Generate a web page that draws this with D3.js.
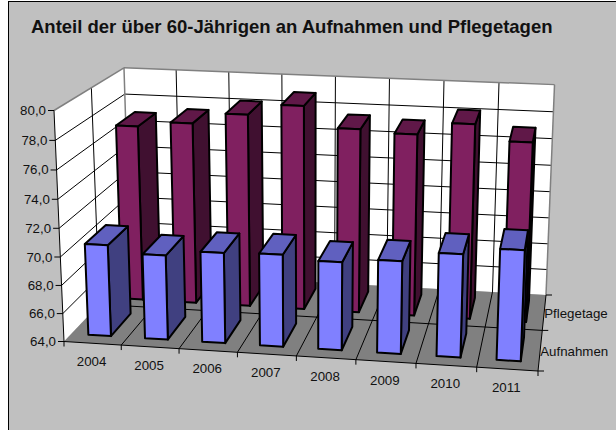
<!DOCTYPE html>
<html>
<head>
<meta charset="utf-8">
<script src="https://cdn.jsdelivr.net/npm/d3@7"></script>
<style>
  html, body { margin: 0; padding: 0; background: #fff; }
  text { font-family: "Liberation Sans", Arial, sans-serif; fill: #111; }
</style>
</head>
<body>
<div id="chart"></div>
<script>
// values
var years = ['2004', '2005', '2006', '2007', '2008', '2009', '2010', '2011']
var seriesNames = ['Aufnahmen', 'Pflegetage']
var aufnahmen = [70.5, 70.0, 70.4, 70.5, 70.2, 70.5, 71.2, 71.7]
var pflegetage = [77.0, 77.4, 78.2, 79.0, 77.5, 77.3, 78.2, 77.1]
var valueTicks = [64, 66, 68, 70, 72, 74, 76, 78, 80]
var titleText = 'Anteil der über 60-Jährigen an Aufnahmen und Pflegetagen'

var width = 616
var height = 430

// screen positions of the plot box corners, used to fit the perspective
var A = [64, 341.5, 1]    // front left bottom
var B = [538, 371, 1]     // front right bottom
var C = [130.35, 271.7, 1] // back left bottom
var D = [546, 295, 1]     // back right bottom
var E = [54, 110.5, 1]    // front left top
var F = [124, 69, 1]      // back left top

// solve a*P + b*Q + c*R = T with cramer
function solve3(P, Q, R, T) {
  function det(a, b, c) {
    return a[0] * (b[1] * c[2] - b[2] * c[1]) - b[0] * (a[1] * c[2] - a[2] * c[1]) + c[0] * (a[1] * b[2] - a[2] * b[1])
  }
  var d = det(P, Q, R)
  return [det(T, Q, R) / d, det(P, T, R) / d, det(P, Q, T) / d]
}

var k1 = solve3(B, C, D.map(function (n) { return -n }), A)
var k2 = solve3(E, C, F.map(function (n) { return -n }), A)
var ku = k1[0], kw = k1[1], kv = k2[0]

// project unit box coordinates: u along years, v up, w into the depth
function project(u, v, w) {
  var p = [0, 1, 2].map(function (i) {
    return A[i] + u * (ku * B[i] - A[i]) + v * (kv * E[i] - A[i]) + w * (kw * C[i] - A[i])
  })
  return [p[0] / p[2], p[1] / p[2]]
}

var xScale = d3.scaleBand().domain(years).range([0, 1]).paddingInner(0).paddingOuter(0)
var yScale = d3.scaleLinear().domain([64, 80]).range([0, 1])
var zScale = d3.scaleBand().domain(seriesNames).range([0, 1])

var line = d3.line()

var svg = d3.select('#chart').append('svg')
  .attr('width', width)
  .attr('height', height)
  .style('display', 'block')

// chart area runs off the right and bottom of the picture
svg.append('rect')
  .attr('x', 8.5).attr('y', 1.5)
  .attr('width', 620).attr('height', 440)
  .attr('fill', '#c0c0c0')
  .attr('stroke', '#000')
  .attr('stroke-width', 1)

svg.append('text')
  .attr('x', 31).attr('y', 33)
  .attr('font-size', 18.5)
  .attr('font-weight', 'bold')
  .text(titleText)

function face(pts, fill, stroke, sw) {
  svg.append('path')
    .attr('d', line(pts.map(function (p) { return project(p[0], p[1], p[2]) })) + 'Z')
    .attr('fill', fill)
    .attr('stroke', stroke)
    .attr('stroke-width', sw)
    .attr('stroke-linejoin', 'round')
}

function seg(a, b, color, sw) {
  var p = project(a[0], a[1], a[2])
  var q = project(b[0], b[1], b[2])
  svg.append('line')
    .attr('x1', p[0]).attr('y1', p[1])
    .attr('x2', q[0]).attr('y2', q[1])
    .attr('stroke', color)
    .attr('stroke-width', sw)
}

// walls and floor
face([[0, 0, 0], [0, 1, 0], [0, 1, 1], [0, 0, 1]], '#fff', 'none', 0)
face([[0, 0, 1], [0, 1, 1], [1, 1, 1], [1, 0, 1]], '#fff', 'none', 0)
face([[0, 0, 0], [1, 0, 0], [1, 0, 1], [0, 0, 1]], '#808080', 'none', 0)

// gridlines on the walls
valueTicks.forEach(function (t) {
  var v = yScale(t)
  if (t > 64 && t < 80) {
    seg([0, v, 0], [0, v, 1], '#000', 1)
    seg([0, v, 1], [1, v, 1], '#000', 1)
  }
})
years.forEach(function (y, i) {
  var u = xScale(y)
  if (i > 0) {
    seg([u, 0, 0], [u, 0, 1], '#000', 1)
    seg([u, 0, 1], [u, 1, 1], '#000', 1)
  }
})
seg([0, 0, 0.5], [0, 1, 0.5], '#000', 1)
seg([0, 0, 0.5], [1, 0, 0.5], '#000', 1)

// grey outline of the walls
seg([0, 1, 0], [0, 1, 1], '#808080', 1.5)
seg([0, 1, 1], [1, 1, 1], '#808080', 1.5)
seg([0, 0, 1], [0, 1, 1], '#808080', 1.5)
seg([1, 0, 1], [1, 1, 1], '#808080', 1.5)

// bars, back series first
var barFill = 0.4   // share of a category taken by a bar
var barDepth = 0.6  // share of a series band taken by a bar
var palettes = {
  Aufnahmen: { front: '#8080ff', top: '#6060bf', side: '#404080' },
  Pflegetage: { front: '#802060', top: '#601848', side: '#401030' }
}

function drawBars(name, values) {
  var pal = palettes[name]
  values.forEach(function (val, i) {
    var cu = xScale(years[i]) + xScale.bandwidth() / 2
    var half = xScale.bandwidth() * barFill / 2
    var u0 = cu - half, u1 = cu + half
    var w0 = zScale(name) + zScale.bandwidth() * (1 - barDepth) / 2
    var w1 = w0 + zScale.bandwidth() * barDepth
    var v = yScale(val)
    face([[u1, 0, w0], [u1, v, w0], [u1, v, w1], [u1, 0, w1]], pal.side, '#000', 2)
    face([[u0, v, w0], [u1, v, w0], [u1, v, w1], [u0, v, w1]], pal.top, '#000', 2)
    face([[u0, 0, w0], [u1, 0, w0], [u1, v, w0], [u0, v, w0]], pal.front, '#000', 2)
  })
}
drawBars('Pflegetage', pflegetage)
drawBars('Aufnahmen', aufnahmen)

// axes
seg([0, 0, 0], [0, 1, 0], '#000', 1)
seg([0, 0, 0], [1, 0, 0], '#000', 1)
seg([1, 0, 0], [1, 0, 1], '#000', 1)

valueTicks.forEach(function (t) {
  var p = project(0, yScale(t), 0)
  svg.append('line')
    .attr('x1', p[0] - 6).attr('y1', p[1])
    .attr('x2', p[0]).attr('y2', p[1])
    .attr('stroke', '#000')
  svg.append('text')
    .attr('x', p[0] - 8).attr('y', p[1] + 4.5)
    .attr('text-anchor', 'end')
    .attr('font-size', 13.3)
    .text(t.toFixed(1).replace('.', ','))
})

var xTickEdges = years.map(function (y) { return xScale(y) }).concat([1])
xTickEdges.forEach(function (u) {
  var p = project(u, 0, 0)
  svg.append('line')
    .attr('x1', p[0]).attr('y1', p[1])
    .attr('x2', p[0]).attr('y2', p[1] + 5)
    .attr('stroke', '#000')
})
years.forEach(function (y) {
  var p = project(xScale(y) + xScale.bandwidth() / 2, 0, 0)
  svg.append('text')
    .attr('x', p[0] - 1).attr('y', p[1] + 23)
    .attr('text-anchor', 'middle')
    .attr('font-size', 13.3)
    .text(y)
})

;[0, 0.5, 1].forEach(function (w) {
  var p = project(1, 0, w)
  svg.append('line')
    .attr('x1', p[0]).attr('y1', p[1])
    .attr('x2', p[0] + 6).attr('y2', p[1])
    .attr('stroke', '#000')
})
seriesNames.forEach(function (name) {
  var p = project(1, 0, zScale(name) + zScale.bandwidth() / 2)
  svg.append('text')
    .attr('x', p[0] + 0).attr('y', p[1] + 6)
    .attr('font-size', 13.3)
    .text(name)
})
</script>
</body>
</html>
